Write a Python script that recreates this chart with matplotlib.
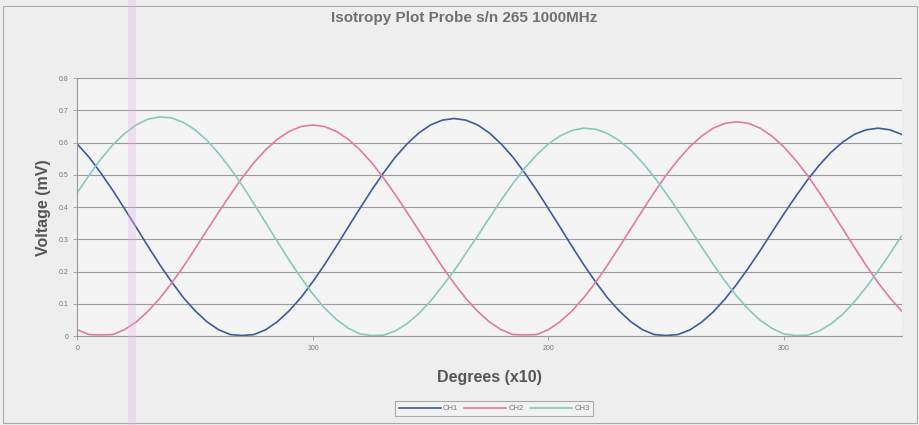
import matplotlib
matplotlib.use("Agg")
import matplotlib.pyplot as plt
from matplotlib.patches import Rectangle

# Readings taken every 5 steps along the x axis
degrees = list(range(0, 355, 5))

ch1 = [0.596, 0.555, 0.506, 0.453, 0.396, 0.338, 0.279, 0.222, 0.169, 0.120,
       0.079, 0.045, 0.020, 0.005, 0.002, 0.005, 0.020, 0.045, 0.079, 0.120,
       0.169, 0.222, 0.279, 0.338, 0.396, 0.453, 0.506, 0.555, 0.596, 0.630,
       0.655, 0.670, 0.675, 0.670, 0.655, 0.630, 0.596, 0.555, 0.506, 0.453,
       0.396, 0.338, 0.279, 0.222, 0.169, 0.120, 0.079, 0.045, 0.020, 0.005,
       0.002, 0.005, 0.019, 0.043, 0.075, 0.115, 0.161, 0.212, 0.266, 0.323,
       0.379, 0.433, 0.484, 0.530, 0.570, 0.602, 0.626, 0.640, 0.645, 0.640,
       0.626]
ch2 = [0.020, 0.005, 0.004, 0.005, 0.020, 0.044, 0.077, 0.117, 0.164, 0.215,
       0.271, 0.328, 0.384, 0.439, 0.491, 0.538, 0.578, 0.611, 0.635, 0.650,
       0.655, 0.650, 0.635, 0.611, 0.578, 0.538, 0.491, 0.439, 0.384, 0.328,
       0.271, 0.215, 0.164, 0.117, 0.077, 0.044, 0.020, 0.005, 0.004, 0.005,
       0.020, 0.045, 0.078, 0.119, 0.166, 0.219, 0.275, 0.333, 0.390, 0.446,
       0.499, 0.546, 0.587, 0.620, 0.645, 0.660, 0.665, 0.660, 0.645, 0.620,
       0.587, 0.546, 0.499, 0.446, 0.390, 0.333, 0.275, 0.219, 0.166, 0.119,
       0.078]
ch3 = [0.445, 0.499, 0.549, 0.593, 0.628, 0.655, 0.673, 0.680, 0.677, 0.663,
       0.640, 0.608, 0.567, 0.520, 0.468, 0.411, 0.352, 0.293, 0.235, 0.181,
       0.131, 0.087, 0.052, 0.025, 0.007, 0.002, 0.003, 0.016, 0.039, 0.070,
       0.109, 0.155, 0.203, 0.257, 0.311, 0.367, 0.422, 0.474, 0.521, 0.562,
       0.596, 0.621, 0.638, 0.645, 0.642, 0.629, 0.607, 0.577, 0.538, 0.493,
       0.443, 0.390, 0.334, 0.278, 0.223, 0.171, 0.124, 0.083, 0.049, 0.024,
       0.007, 0.002, 0.003, 0.016, 0.038, 0.068, 0.107, 0.152, 0.202, 0.255,
       0.311]

series_names = ["CH1", "CH2", "CH3"]
series_colors = ["#3b5c9c", "#e27aa2", "#86c9bd"]

y_ticks = [0, 0.1, 0.2, 0.3, 0.4, 0.5, 0.6, 0.7, 0.8]
y_tick_labels = ["0", "0.1", "0.2", "0.3", "0.4", "0.5", "0.6", "0.7", "0.8"]
x_ticks = [0, 100, 200, 300]
x_tick_labels = ["0", "100", "200", "300"]

plt.rcParams['font.family'] = ['Liberation Sans', 'DejaVu Sans']

fig = plt.figure(figsize=(9.2, 4.25), dpi=100, facecolor="#eeeeee")
ax = fig.add_axes([0.084, 0.209, 0.896, 0.607])
ax.set_facecolor("#f4f4f4")

for vals, name, col in zip([ch1, ch2, ch3], series_names, series_colors):
    ax.plot(degrees, vals, color=col, linewidth=1.2, label=name)

ax.set_xlim(0, 350)
ax.set_ylim(0, 0.8)
ax.set_yticks(y_ticks)
ax.set_yticklabels(y_tick_labels)
ax.set_xticks(x_ticks)
ax.set_xticklabels(x_tick_labels)
ax.tick_params(labelsize=5, colors="#999999", labelcolor="#777777", length=3, width=0.6)
ax.yaxis.grid(True, color="#9a9a9a", linewidth=0.8)
ax.set_axisbelow(True)
for side in ["top", "right"]:
    ax.spines[side].set_visible(False)
for side in ["left", "bottom"]:
    ax.spines[side].set_color("#9a9a9a")
    ax.spines[side].set_linewidth(0.8)

ax.set_xlabel("Degrees (x10)", fontsize=11.5, fontweight="bold", color="#555555")
ax.set_ylabel("Voltage (mV)", fontsize=11.5, fontweight="bold", color="#555555", labelpad=5)
ax.xaxis.set_label_coords(0.5, -0.13)

fig.text(0.505, 0.958, "Isotropy Plot Probe s/n 265 1000MHz", ha="center", va="center",
         fontsize=11, fontweight="bold", color="#707070")

leg = fig.legend(loc="center", bbox_to_anchor=(0.537, 0.0385), ncol=3, fontsize=5.5,
                 handlelength=5.5, handletextpad=0.3, columnspacing=0.8,
                 frameon=True, fancybox=False, borderpad=0.5)
leg.get_frame().set_edgecolor("#999999")
leg.get_frame().set_facecolor("#f4f4f4")
leg.get_frame().set_linewidth(0.8)
for t in leg.get_texts():
    t.set_color("#777777")

# outer chart border and the faint scanner stripe
fig.add_artist(Rectangle((0.003, 0.005), 0.994, 0.981, transform=fig.transFigure,
                         fill=False, edgecolor="#aaaaaa", linewidth=0.8))
fig.add_artist(Rectangle((0.139, 0.0), 0.009, 1.0, transform=fig.transFigure,
                         facecolor="#e6b5e6", edgecolor="none", alpha=0.35, zorder=10))

fig.savefig("out.png", dpi=100, facecolor=fig.get_facecolor())
